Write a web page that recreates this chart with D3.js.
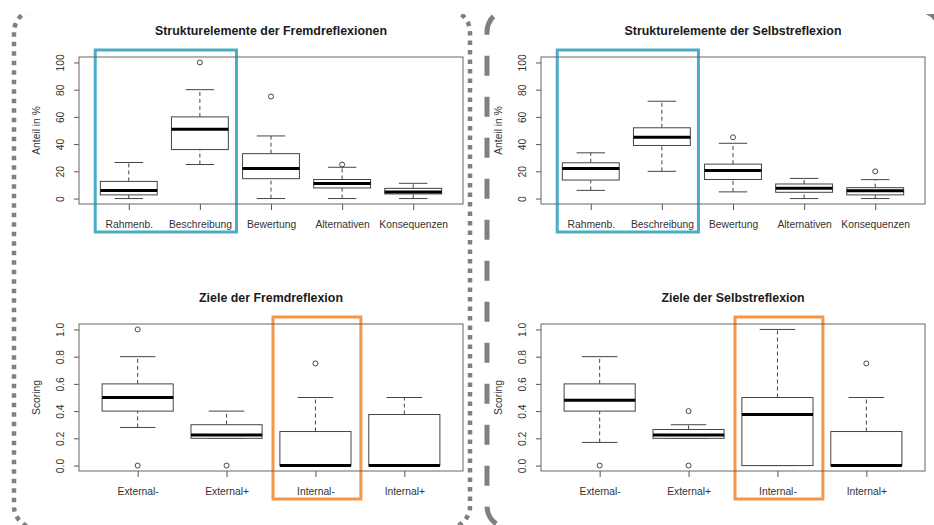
<!DOCTYPE html>
<html>
<head>
<meta charset="utf-8">
<script src="https://cdn.jsdelivr.net/npm/d3@7"></script>
<style>
  body { margin: 0; background: #fff; }
  svg { display: block; font-family: "Liberation Sans", Arial, Helvetica, sans-serif; }
</style>
</head>
<body>
<div id="viz-container"></div>
<script>
'use strict';

// Kategorien und Achsenbeschriftungen
const strukturKategorien = ['Rahmenb.', 'Beschreibung', 'Bewertung', 'Alternativen', 'Konsequenzen'];
const zieleKategorien = ['External-', 'External+', 'Internal-', 'Internal+'];
const strukturTicks = [0, 20, 40, 60, 80, 100];
const zieleTicks = [0, 0.2, 0.4, 0.6, 0.8, 1.0];

// Boxplot-Kennwerte: [unterer Whisker, Q1, Median, Q3, oberer Whisker]
const strukturFremd = [[0, 2.7, 6, 12.6, 26.5], [25, 36, 51, 60, 80], [0, 14.6, 22, 33, 46], [0, 7.8, 11, 14, 23], [0, 3.4, 4.9, 7.5, 11.2]];
const strukturFremdAusreisser = [[], [100], [75], [25], []];
const strukturSelbst = [[6, 13.6, 22, 26.3, 33.6], [20, 39, 45, 52, 71.5], [4.9, 14, 20.7, 25.3, 40.6], [0, 4.6, 7.5, 10.7, 14.8], [0, 2.7, 5.8, 8, 13.9]];
const strukturSelbstAusreisser = [[], [], [45], [], [20]];
const zieleFremd = [[0.28, 0.4, 0.5, 0.6, 0.8], [0.2, 0.2, 0.225, 0.3, 0.4], [0, 0, 0, 0.25, 0.5], [0, 0, 0, 0.375, 0.5]];
const zieleFremdAusreisser = [[1, 0], [0], [0.75], []];
const zieleSelbst = [[0.17, 0.4, 0.48, 0.6, 0.8], [0.2, 0.2, 0.225, 0.265, 0.3], [0, 0, 0.375, 0.5, 1], [0, 0, 0, 0.25, 0.5]];
const zieleSelbstAusreisser = [[0], [0.4, 0], [], [0.75]];

// Hervorgehobene Kategorien
const strukturMarkiert = ['Rahmenb.', 'Beschreibung'];
const zieleMarkiert = ['Internal-'];

const width = 934;
const height = 525;
const plotW = 384;
const plotH = 147;

const svg = d3.select('#viz-container')
    .append('svg')
    .attr('width', width)
    .attr('height', height);

// Rahmen um die beiden Spalten (oben abgeschnitten)
svg.append('clipPath').attr('id', 'rahmenClip')
    .append('rect').attr('x', 0).attr('y', 14).attr('width', width).attr('height', height);

// abgerundetes Rechteck, beginnt unten links im Bogen und läuft nach oben
function rahmenPfad(x0, y0, x1, y1, r) {
    const p = d3.path();
    p.moveTo(x0 + r, y1);
    p.arcTo(x0, y1, x0, y1 - r, r);
    p.lineTo(x0, y0 + r);
    p.arcTo(x0, y0, x0 + r, y0, r);
    p.lineTo(x1 - r, y0);
    p.arcTo(x1, y0, x1, y0 + r, r);
    p.lineTo(x1, y1 - r);
    p.arcTo(x1, y1, x1 - r, y1, r);
    p.closePath();
    return p.toString();
}

const rahmen = svg.append('g').attr('clip-path', 'url(#rahmenClip)');
rahmen.append('path')
    .attr('d', rahmenPfad(14, 10, 470, 528, 22))
    .attr('fill', 'none')
    .attr('stroke', '#808080')
    .attr('stroke-width', 4.5)
    .attr('stroke-dasharray', '4.5,5');
rahmen.append('path')
    .attr('d', rahmenPfad(487, 10, 940, 528, 22))
    .attr('fill', 'none')
    .attr('stroke', '#808080')
    .attr('stroke-width', 5)
    .attr('stroke-dasharray', '20,21')
    .attr('stroke-dashoffset', 27.4);

function drawPanel(o) {
    const g = svg.append('g').attr('transform', 'translate(' + o.left + ',' + o.top + ')');
    const n = o.kategorien.length;

    // R-artige Achsenerweiterung um 4 %
    const x = d3.scalePoint()
        .domain(o.kategorien)
        .range([0, plotW])
        .padding((0.08 * n + 1) / 2);
    const span = o.yMax - o.yMin;
    const y = d3.scaleLinear()
        .domain([o.yMin - 0.04 * span, o.yMax + 0.04 * span])
        .range([plotH, 0]);
    const step = x.step();
    const boxW = step * 0.8;

    // Markierung
    g.append('rect')
        .attr('x', x(o.markiert[0]) - step / 2 + 2)
        .attr('y', -7)
        .attr('width', x(o.markiert[o.markiert.length - 1]) - x(o.markiert[0]) + step - 1)
        .attr('height', plotH + 7 + 28)
        .attr('fill', 'none')
        .attr('stroke', o.farbe)
        .attr('stroke-width', 3);

    // Titel
    svg.append('text')
        .attr('x', o.left + plotW / 2)
        .attr('y', o.top - 22)
        .attr('text-anchor', 'middle')
        .attr('font-size', 12.4)
        .attr('font-weight', 'bold')
        .attr('fill', '#1a1a1a')
        .text(o.titel);

    // y-Achse
    const yAxis = g.append('g')
        .call(d3.axisLeft(y).tickValues(o.ticks).tickFormat(o.format).tickSize(5).tickSizeOuter(0));
    yAxis.select('.domain').remove();
    yAxis.selectAll('line').attr('stroke', '#555');
    yAxis.selectAll('text')
        .attr('x', null).attr('dy', null)
        .attr('transform', 'translate(-15,0) rotate(-90)')
        .attr('text-anchor', 'middle')
        .attr('font-size', 10.3)
        .attr('fill', '#333');

    // x-Achse
    const xAxis = g.append('g')
        .attr('transform', 'translate(0,' + plotH + ')')
        .call(d3.axisBottom(x).tickSize(6).tickSizeOuter(0));
    xAxis.select('.domain').remove();
    xAxis.selectAll('line').attr('stroke', '#555');
    xAxis.selectAll('text')
        .attr('y', 24).attr('dy', null)
        .attr('font-size', 10.3)
        .attr('fill', '#333');

    // y-Achsentitel
    g.append('text')
        .attr('transform', 'translate(-39,' + plotH / 2 + ') rotate(-90)')
        .attr('text-anchor', 'middle')
        .attr('font-size', 10.3)
        .attr('fill', '#333')
        .text(o.yTitel);

    // Boxplots
    const daten = o.kategorien.map((k, i) => ({ k: k, s: o.stats[i], a: o.ausreisser[i] }));
    const box = g.selectAll('.box').data(daten).enter().append('g').attr('class', 'box');

    box.append('line')
        .attr('x1', d => x(d.k)).attr('x2', d => x(d.k))
        .attr('y1', d => y(d.s[0])).attr('y2', d => y(d.s[1]))
        .attr('stroke', '#444').attr('stroke-dasharray', '4,3');
    box.append('line')
        .attr('x1', d => x(d.k)).attr('x2', d => x(d.k))
        .attr('y1', d => y(d.s[3])).attr('y2', d => y(d.s[4]))
        .attr('stroke', '#444').attr('stroke-dasharray', '4,3');
    box.append('line')
        .attr('x1', d => x(d.k) - boxW / 4).attr('x2', d => x(d.k) + boxW / 4)
        .attr('y1', d => y(d.s[0])).attr('y2', d => y(d.s[0]))
        .attr('stroke', '#444');
    box.append('line')
        .attr('x1', d => x(d.k) - boxW / 4).attr('x2', d => x(d.k) + boxW / 4)
        .attr('y1', d => y(d.s[4])).attr('y2', d => y(d.s[4]))
        .attr('stroke', '#444');
    box.append('rect')
        .attr('x', d => x(d.k) - boxW / 2)
        .attr('y', d => y(d.s[3]))
        .attr('width', boxW)
        .attr('height', d => y(d.s[1]) - y(d.s[3]))
        .attr('fill', '#fff')
        .attr('stroke', '#444');
    box.append('line')
        .attr('x1', d => x(d.k) - boxW / 2).attr('x2', d => x(d.k) + boxW / 2)
        .attr('y1', d => y(d.s[2])).attr('y2', d => y(d.s[2]))
        .attr('stroke', '#000').attr('stroke-width', 3);
    box.selectAll('circle').data(d => d.a.map(v => ({ k: d.k, v: v }))).enter()
        .append('circle')
        .attr('cx', d => x(d.k))
        .attr('cy', d => y(d.v))
        .attr('r', 2.5)
        .attr('fill', 'none')
        .attr('stroke', '#444');

    // Plotrahmen
    g.append('rect')
        .attr('width', plotW).attr('height', plotH)
        .attr('fill', 'none')
        .attr('stroke', '#666');
}

drawPanel({ left: 79, top: 57, titel: 'Strukturelemente der Fremdreflexionen', kategorien: strukturKategorien,
    stats: strukturFremd, ausreisser: strukturFremdAusreisser, ticks: strukturTicks, format: d3.format('d'),
    yMin: 0, yMax: 100, yTitel: 'Anteil in %', markiert: strukturMarkiert, farbe: '#4BACC6' });
drawPanel({ left: 541, top: 57, titel: 'Strukturelemente der Selbstreflexion', kategorien: strukturKategorien,
    stats: strukturSelbst, ausreisser: strukturSelbstAusreisser, ticks: strukturTicks, format: d3.format('d'),
    yMin: 0, yMax: 100, yTitel: 'Anteil in %', markiert: strukturMarkiert, farbe: '#4BACC6' });
drawPanel({ left: 79, top: 324, titel: 'Ziele der Fremdreflexion', kategorien: zieleKategorien,
    stats: zieleFremd, ausreisser: zieleFremdAusreisser, ticks: zieleTicks, format: d3.format('.1f'),
    yMin: 0, yMax: 1, yTitel: 'Scoring', markiert: zieleMarkiert, farbe: '#F79646' });
drawPanel({ left: 541, top: 324, titel: 'Ziele der Selbstreflexion', kategorien: zieleKategorien,
    stats: zieleSelbst, ausreisser: zieleSelbstAusreisser, ticks: zieleTicks, format: d3.format('.1f'),
    yMin: 0, yMax: 1, yTitel: 'Scoring', markiert: zieleMarkiert, farbe: '#F79646' });
</script>
</body>
</html>
